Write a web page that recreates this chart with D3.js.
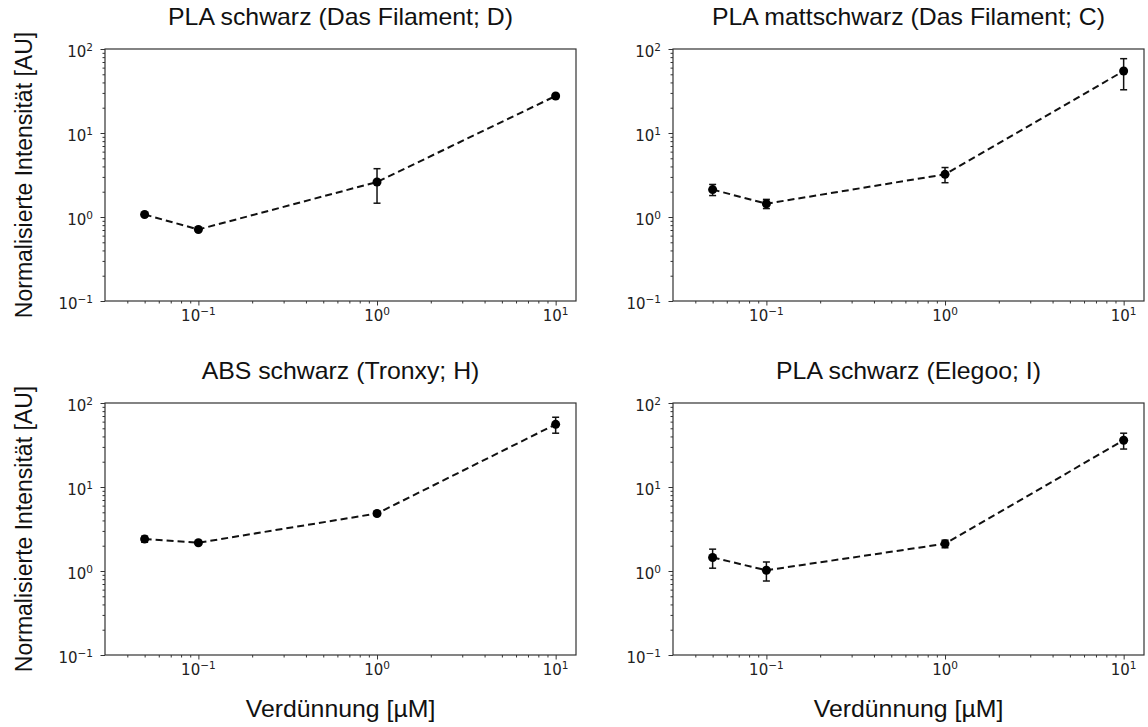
<!DOCTYPE html>
<html><head><meta charset="utf-8">
<script src="https://cdn.jsdelivr.net/npm/d3@7"></script>
<style>body{margin:0;background:#fff}</style></head>
<body><svg id="c" width="1148" height="727"></svg>
<script>
// ---- data ----
const concentrations = [0.05, 0.1, 1, 10];
const panelTitles = ["PLA schwarz (Das Filament; D)", "PLA mattschwarz (Das Filament; C)", "ABS schwarz (Tronxy; H)", "PLA schwarz (Elegoo; I)"];
const meanD = [1.07, 0.71, 2.61, 27.6];
const sdD   = [0.05, 0.03, 1.15, 1.5];
const meanC = [2.12, 1.44, 3.22, 54.7];
const sdC   = [0.32, 0.18, 0.66, 22];
const meanH = [2.4, 2.17, 4.84, 55.7];
const sdH   = [0.2, 0.1, 0.25, 12];
const meanI = [1.45, 1.02, 2.11, 36];
const sdI   = [0.37, 0.26, 0.22, 7.7];
const xTickValues = [0.1, 1, 10];
const xTickExps = ["\u22121", "0", "1"];
const yTickValues = [0.1, 1, 10, 100];
const yTickExps = ["\u22121", "0", "1", "2"];
const xLabel = "Verdünnung [µM]";
const yLabel = "Normalisierte Intensität [AU]";

const panels = [
  {title: panelTitles[0], mean: meanD, sd: sdD, col: 0, row: 0},
  {title: panelTitles[1], mean: meanC, sd: sdC, col: 1, row: 0},
  {title: panelTitles[2], mean: meanH, sd: sdH, col: 0, row: 1},
  {title: panelTitles[3], mean: meanI, sd: sdI, col: 1, row: 1}
];

// ---- layout ----
const lefts = [105, 673], tops = [49, 403];
const W = 471, H = 252;
const svg = d3.select("#c");
const x = d3.scaleLog().domain([0.03, 13]).range([0, W]);
const y = d3.scaleLog().domain([0.1, 100]).range([H, 0]);

const minorX = [], minorY = [];
for (let d = -2; d <= 2; d++) for (let k = 2; k <= 9; k++) {
  const v = k * Math.pow(10, d);
  if (v > 0.03 && v < 13) minorX.push(v);
  if (v > 0.1 && v < 100) minorY.push(v);
}
const tickFont = "'DejaVu Sans', sans-serif";
const labelFont = "'Liberation Sans', Arial, sans-serif";
const axisColor = "#333";

panels.forEach(p => {
  const g = svg.append("g").attr("transform", `translate(${lefts[p.col]},${tops[p.row]})`);

  // axes (ticks)
  const styleAxis = a => { a.select(".domain").remove(); a.selectAll("line").attr("stroke", axisColor).attr("stroke-width", 1); };
  g.append("g").attr("transform", `translate(0,${H})`)
    .call(d3.axisBottom(x).tickValues(xTickValues).tickSize(4.5).tickFormat(() => "")).call(styleAxis);
  g.append("g").attr("transform", `translate(0,${H})`)
    .call(d3.axisBottom(x).tickValues(minorX).tickSize(2.5).tickFormat(() => "")).call(styleAxis);
  g.append("g").call(d3.axisLeft(y).tickValues(yTickValues).tickSize(4.5).tickFormat(() => "")).call(styleAxis);
  g.append("g").call(d3.axisLeft(y).tickValues(minorY).tickSize(2.5).tickFormat(() => "")).call(styleAxis);

  // tick labels
  xTickValues.forEach((v, i) => {
    const t = g.append("text").attr("x", x(v)).attr("y", H + 20).attr("text-anchor", "middle")
      .attr("font-family", tickFont).attr("font-size", 15).attr("fill", "#222");
    t.append("tspan").text("10");
    t.append("tspan").attr("dy", -6).attr("font-size", 10.5).text(xTickExps[i]);
  });
  yTickValues.forEach((v, i) => {
    const t = g.append("text").attr("x", -12).attr("y", y(v) + 7.5).attr("text-anchor", "end")
      .attr("font-family", tickFont).attr("font-size", 15).attr("fill", "#222");
    t.append("tspan").text("10");
    t.append("tspan").attr("dy", -6).attr("font-size", 10.5).text(yTickExps[i]);
  });

  // frame
  g.append("rect").attr("x", 0).attr("y", 0).attr("width", W).attr("height", H)
    .attr("fill", "none").attr("stroke", axisColor).attr("stroke-width", 1.2);

  // data
  const pts = concentrations.map((c, i) => ({c, m: p.mean[i], s: p.sd[i]}));
  g.append("path").datum(pts)
    .attr("d", d3.line().x(d => x(d.c)).y(d => y(d.m)))
    .attr("fill", "none").attr("stroke", "#111").attr("stroke-width", 2).attr("stroke-dasharray", "7,4");
  const eb = g.selectAll(".eb").data(pts).enter().append("g");
  eb.append("line").attr("x1", d => x(d.c)).attr("x2", d => x(d.c))
    .attr("y1", d => y(d.m - d.s)).attr("y2", d => y(d.m + d.s)).attr("stroke", "#111").attr("stroke-width", 1.5);
  [d => d.m - d.s, d => d.m + d.s].forEach(f => {
    eb.append("line").attr("x1", d => x(d.c) - 3.5).attr("x2", d => x(d.c) + 3.5)
      .attr("y1", d => y(f(d))).attr("y2", d => y(f(d))).attr("stroke", "#111").attr("stroke-width", 1.5);
  });
  g.selectAll(".pt").data(pts).enter().append("circle")
    .attr("cx", d => x(d.c)).attr("cy", d => y(d.m)).attr("r", 4.5).attr("fill", "#000");

  // title
  g.append("text").attr("transform", `translate(${W / 2},-24) scale(1.08,1)`).attr("text-anchor", "middle")
    .attr("font-family", labelFont).attr("font-size", 23).attr("fill", "#111").text(p.title);

  if (p.row === 1) {
    g.append("text").attr("transform", `translate(${W / 2},${H + 62}) scale(1.08,1)`).attr("text-anchor", "middle")
      .attr("font-family", labelFont).attr("font-size", 23).attr("fill", "#111").text(xLabel);
  }
  if (p.col === 0) {
    g.append("text").attr("transform", `translate(${32 - lefts[0]},${H / 2}) rotate(-90)`).attr("text-anchor", "middle")
      .attr("font-family", labelFont).attr("font-size", 23).attr("fill", "#111").text(yLabel);
  }
});
</script></body></html>
